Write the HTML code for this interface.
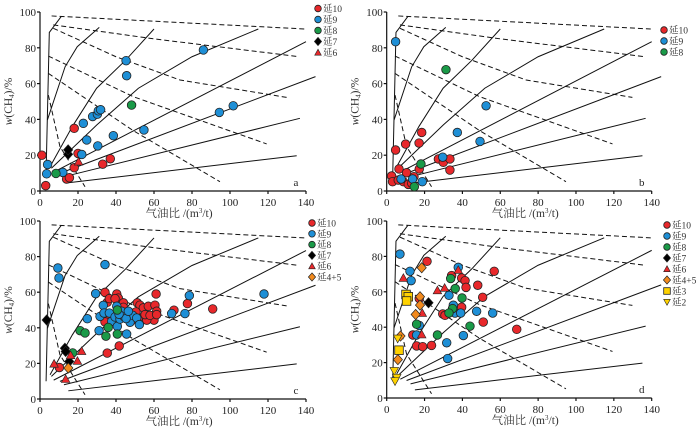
<!DOCTYPE html>
<html><head><meta charset="utf-8">
<style>
html,body{margin:0;padding:0;background:#fff;width:700px;height:436px;overflow:hidden}
svg{display:block;font-family:"Liberation Serif","Noto Serif CJK SC","Noto Sans CJK SC",serif}
</style></head>
<body>
<svg id="chart" width="700" height="436" viewBox="0 0 700 436" xmlns="http://www.w3.org/2000/svg"></svg>
<script>
// ---- chart data (data coordinates: x = gas-oil ratio m3/t, y = w(CH4) %) ----
const xTicks = [0,20,40,60,80,100,120,140];
const yTicks = [0,20,40,60,80,100];
const seriesNames = ['延10','延9','延8','延7','延6','延4+5','延3','延2'];
// template solid lines
const solidLines = [
 [[3.2,10],[4.9,88.6],[11.1,97.4]],
 [[3.9,39.7],[13.2,69.4],[19.6,80.6],[31.2,91.4]],
 [[5.3,13.6],[17,36],[29.8,57.4],[45,73],[60,90.5]],
 [[6,12.7],[30,37],[51.8,57.4],[80,75],[114.9,90.5]],
 [[7.2,10.6],[140,83.4]],
 [[10.5,9.9],[145,63.9]],
 [[12.6,8],[136.8,40.6]],
 [[14.9,4.6],[135.1,19.7]]
];
// template dashed lines
const dashedLines = [
 [[6.1,97.8],[139.5,90.5]],
 [[7,92.8],[60,85],[135.9,75.1]],
 [[7,90.9],[40,75],[73.7,62],[129.8,52.3]],
 [[4.4,75.4],[49.1,52.7],[119.3,26.3]],
 [[4.4,65.7],[49.1,33.7],[94.7,5.2]],
 [[4.4,53.6],[10.5,24.8],[23.7,2.4]]
];
// panel a
const aY10x=[1,3,18,20,18,14,15.5,33,37], aY10y=[20,3,35,21,13,6.7,7.4,15,18];
const aY9x=[3.5,4,12,22,22.8,24.6,27.7,30.2,30.7,31.9,30.4,38.6,45.3,45.6,54.7,86,94.4,101.7];
const aY9y=[9.6,14.8,10.4,20.4,37.8,28.5,41.6,42.9,44.8,45.4,25.2,30.9,72.8,64.4,34.1,78.8,43.9,47.6];
const aY8x=[8.4,48.2], aY8y=[9.8,48];
const aY7x=[14.8,14.8], aY7y=[20.5,23];
const aY6x=[20.3], aY6y=[16.4];
// panel b
const bY10x=[2.6,3.1,4.7,6.5,6.1,8.8,10.5,10,11.4,13.2,14.4,17.1,18.5,17.2,27.3,29.9,33.4,33.4];
const bY10y=[8.4,5.2,22.9,12.3,6.1,5.2,10.2,26.2,3.7,4.3,8,26.8,32.7,12.3,17.9,16,17.9,11.7];
const bY9x=[4.7,7.6,13.7,18.8,29.6,37.3,49.3,52.5], bY9y=[83.4,6.7,6.7,5.2,18.9,32.7,27.7,47.6];
const bY8x=[18.1,14.6,31.3], bY8y=[15.1,2.4,67.8];
// panel c
const cY10x=[10.2,35.4,41.7,34.2,35.4,36.5,36.5,34.2,40.4,41.2,39.5,43.9,43.9,51.2,52.6,54.4,57,60.5,61.1,61.4,60,56.2,51.8,55.3,57.9,61.4,70.5,77.6,90.9,48.3,50.5,47,50];
const cY10y=[17.7,25.8,29.8,59.9,54.3,56.4,44.6,43.3,59,56.7,56.4,54,51.5,54,52.7,51.2,52.1,52.7,59,49.3,44.3,44.3,45.5,47.4,47,47.4,49.9,53.6,50.6,48.3,48.9,46.4,44.6];
const cY9x=[9.4,10,34.2,29.3,24.9,31.1,31.6,33.3,33.7,36.5,37.7,39.5,40.4,40.7,42.1,43,44.4,45.6,47.4,48.8,50.9,52.3,45.3,46.5,69.3,76.3,78.6,117.9,41.6];
const cY9y=[73.6,68,75.5,59.2,45.1,38.4,46.4,52.6,48.3,48.3,43.6,46.1,52.1,40.8,44.9,49.3,46.1,36.5,43.1,47,45.5,41.8,45.2,49.3,48,48,58.1,59,47.6];
const cY8x=[21.1,23.7,17.2,34.7,35.9,40.7,40.7], cY8y=[38.4,37.1,25.9,35.3,40.2,36.5,50];
const cY7x=[3.5,13.1,13.5,15.4], cY7y=[44.4,28.5,26.7,21.1];
const cY6x=[7.4,13.5,16.1,19.7,21.9], cY6y=[19.8,11.2,24.6,21.4,26.9];
const cY45x=[14.9], cY45y=[17.4];
// panel d
const dY10x=[21.3,56.8,34.3,39.6,41.4,41.9,48.1,50.7,17.2,29.6,30.8,39.6,51,68.7,13.8,15.8,19,23.7];
const dY10y=[77.2,71.6,69.2,67.8,66.3,62.5,63.7,56.9,56.2,47.5,46.7,51.3,42.9,38.8,35.6,29.4,29,29.7];
const dY9x=[7,12.3,12.9,37.8,32.9,35.2,36.1,39.1,47.5,56,40.5,31.7,32.2,17.2,15.8];
const dY9y=[81.3,71.6,66.3,73.8,58,52.4,48,48,49,48,35.3,31.2,22.3,41,35.6];
const dY8x=[33.8,36.2,39.8,34.8,32.9,26.8,44,15.8], dY8y=[67.5,61.8,56.5,50.5,48,35.6,40.6,41.7];
const dY7x=[22.1], dY7y=[53.8];
const dY6x=[8.8,26.8,30.6,37.8,18.8,18.5], dY6y=[67.8,60.8,62.2,72.3,48,35.9];
const dY45x=[18.5,17.6,17.6,15.3,7.3,5.9], dY45y=[73.6,57.2,52.5,47.2,35,21.7];
const dY3x=[10.2,11.4,10.5,6.5], dY3y=[58.5,57.2,54.8,27];
const dY2x=[5.8,4,5.3,4.4], dY2y=[33.6,15.3,11.4,9.5];

const NS='http://www.w3.org/2000/svg';
const svg=document.getElementById('chart');
function mk(tag,attrs,parent){const e=document.createElementNS(NS,tag);for(const k in attrs)e.setAttribute(k,attrs[k]);(parent||svg).appendChild(e);return e;}
const styles={
 '延10':{shape:'circle',fill:'#e8282b'},'延9':{shape:'circle',fill:'#1e8fd6'},'延8':{shape:'circle',fill:'#1a9a48'},
 '延7':{shape:'diamond',fill:'#000'},'延6':{shape:'tri',fill:'#e8282b'},'延4+5':{shape:'diamond',fill:'#f28a1e'},
 '延3':{shape:'square',fill:'#ffd200'},'延2':{shape:'dtri',fill:'#ffd200'}};
function marker(g,kind,cx,cy,r){
 const s=styles[kind];let e;
 if(s.shape==='circle')e=mk('circle',{cx,cy,r,fill:s.fill,stroke:'#222','stroke-width':0.8},g);
 else if(s.shape==='diamond')e=mk('polygon',{points:`${cx},${cy-r-0.8} ${cx+r+0.3},${cy} ${cx},${cy+r+0.8} ${cx-r-0.3},${cy}`,fill:s.fill,stroke:'#222','stroke-width':0.7},g);
 else if(s.shape==='tri')e=mk('polygon',{points:`${cx},${cy-r} ${cx+r},${cy+r*0.8} ${cx-r},${cy+r*0.8}`,fill:s.fill,stroke:'#222','stroke-width':0.6},g);
 else if(s.shape==='dtri')e=mk('polygon',{points:`${cx},${cy+r} ${cx+r},${cy-r*0.8} ${cx-r},${cy-r*0.8}`,fill:s.fill,stroke:'#222','stroke-width':0.6},g);
 else e=mk('rect',{x:cx-r,y:cy-r,width:2*r,height:2*r,fill:s.fill,stroke:'#222','stroke-width':0.8},g);
 return e;
}
function panel(p){
 const g=mk('g',{});
 
 
 const X=v=>p.x0+v*(p.x1-p.x0)/140, Y=v=>p.y0-v*(p.y0-p.y1)/100;
 // template lines
 const tg=mk('g',{fill:'none',stroke:'#111'},g);
 
 
 solidLines.forEach(l=>{const e=mk('polyline',{points:l.map(q=>X(q[0])+','+Y(q[1])).join(' '),'stroke-width':1},tg);
  
  });
 dashedLines.forEach(l=>{const e=mk('polyline',{points:l.map(q=>X(q[0])+','+Y(q[1])).join(' '),'stroke-width':1,'stroke-dasharray':'5,3'},tg);
  
  });
 // axes
 const ax=mk('g',{stroke:'#111','stroke-width':1.2},g);
 
 
 mk('line',{x1:p.x0,y1:p.y0,x2:p.x1,y2:p.y0},ax);
 mk('line',{x1:p.x0,y1:p.y0,x2:p.x0,y2:p.y1},ax);
 xTicks.forEach(t=>{mk('line',{x1:X(t),y1:p.y0,x2:X(t),y2:p.y0+3},ax);
  const tx=mk('text',{x:X(t),y:p.y0+15,'text-anchor':'middle','font-size':11,fill:'#222',stroke:'none'},g);tx.textContent=t;
  
  });
 yTicks.forEach(t=>{mk('line',{x1:p.x0-3,y1:Y(t),x2:p.x0,y2:Y(t)},ax);
  const tx=mk('text',{x:p.x0-4,y:Y(t)+4,'text-anchor':'end','font-size':11,fill:'#222'},g);tx.textContent=t;
  
  });
 const xl=mk('text',{x:(p.x0+p.x1)/2+6,y:p.y0+26,'text-anchor':'middle','font-size':11.5,fill:'#333'},g);
 xl.innerHTML='气油比 /(m<tspan font-size="7" dy="-4">3</tspan><tspan dy="4">/t)</tspan>';
 
 
 const yc=(p.y0+p.y1)/2;
 const yl=mk('text',{x:p.x0-28,y:yc,'text-anchor':'middle','font-size':11.5,fill:'#333',transform:`rotate(-90 ${p.x0-28} ${yc})`},g);
 yl.innerHTML='<tspan font-style="italic">w</tspan>(CH<tspan font-size="7" dy="2">4</tspan><tspan dy="-2">)/%</tspan>';
 
 
 const lt=mk('text',{x:X(140)-10,y:p.y0-5,'text-anchor':'middle','font-size':11,fill:'#222'},g);lt.textContent=p.letter;
 
 
 // points
 p.series.forEach(s=>{
  const sg=mk('g',{},g);
  
  
  s.xs.forEach((v,i)=>{const m=marker(sg,s.name,X(v),Y(s.ys[i]),4.3);
   
   });
 });
 // legend
 const lg=mk('g',{},g);
 
 
 p.series.forEach((s,i)=>{
  const ly=p.ly+i*p.ld;
  const eg=mk('g',{},lg);
  
  
  marker(eg,s.name,p.lx,ly,3.3);
  const t=mk('text',{x:p.lx+5,y:ly+3.5,'font-size':9.5,fill:'#333'},eg);t.textContent=s.name;
 });
}
const S=(n,xs,ys)=>({name:n,xs,ys});
panel({letter:'a',x0:40,x1:306,y0:191,y1:12,lx:318,ly:8.5,ld:11,series:[S(seriesNames[0],aY10x,aY10y),S(seriesNames[1],aY9x,aY9y),S(seriesNames[2],aY8x,aY8y),S(seriesNames[3],aY7x,aY7y),S(seriesNames[4],aY6x,aY6y)]});
panel({letter:'b',x0:386.7,x1:651.7,y0:191,y1:12,lx:664,ly:30,ld:11,series:[S(seriesNames[0],bY10x,bY10y),S(seriesNames[1],bY9x,bY9y),S(seriesNames[2],bY8x,bY8y)]});
panel({letter:'c',x0:40,x1:306,y0:399,y1:221,lx:312,ly:223,ld:10.8,series:[S(seriesNames[0],cY10x,cY10y),S(seriesNames[1],cY9x,cY9y),S(seriesNames[2],cY8x,cY8y),S(seriesNames[3],cY7x,cY7y),S(seriesNames[4],cY6x,cY6y),S(seriesNames[5],cY45x,cY45y)]});
panel({letter:'d',x0:386.7,x1:651.7,y0:398,y1:221,lx:667,ly:225,ld:11,series:[S(seriesNames[0],dY10x,dY10y),S(seriesNames[1],dY9x,dY9y),S(seriesNames[2],dY8x,dY8y),S(seriesNames[3],dY7x,dY7y),S(seriesNames[4],dY6x,dY6y),S(seriesNames[5],dY45x,dY45y),S(seriesNames[6],dY3x,dY3y),S(seriesNames[7],dY2x,dY2y)]});
</script>
</body></html>
